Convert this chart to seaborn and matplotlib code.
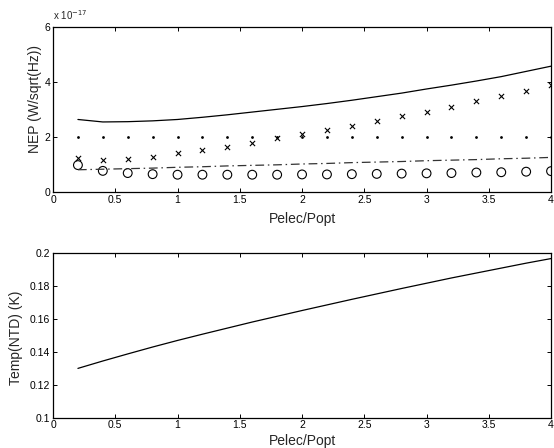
import matplotlib

matplotlib.use("Agg")
import matplotlib.pyplot as plt
import numpy as np
import pandas as pd
import seaborn as sns

# ------------------------------------------------------------------ #
# Data
# ------------------------------------------------------------------ #
ratio = [0.2, 0.4, 0.6, 0.8, 1.0, 1.2, 1.4, 1.6, 1.8, 2.0,
         2.2, 2.4, 2.6, 2.8, 3.0, 3.2, 3.4, 3.6, 3.8, 4.0]

# NEP values in units of 1e-17 W/sqrt(Hz)
nep_total = [2.63, 2.54, 2.55, 2.58, 2.63, 2.71, 2.80, 2.90, 3.00, 3.10,
             3.21, 3.33, 3.46, 3.59, 3.74, 3.88, 4.03, 4.19, 4.38, 4.57]
nep_const = [2.0] * 20
nep_cross = [1.22, 1.14, 1.18, 1.28, 1.40, 1.51, 1.64, 1.78, 1.95, 2.10,
             2.24, 2.40, 2.57, 2.74, 2.92, 3.09, 3.29, 3.47, 3.66, 3.87]
nep_circle = [0.97, 0.76, 0.68, 0.64, 0.62, 0.62, 0.62, 0.62, 0.62, 0.63,
              0.63, 0.64, 0.65, 0.66, 0.67, 0.68, 0.70, 0.71, 0.73, 0.75]
nep_dashdot = [0.80, 0.82, 0.84, 0.86, 0.89, 0.91, 0.94, 0.96, 0.98, 1.01,
               1.03, 1.06, 1.08, 1.10, 1.13, 1.15, 1.17, 1.20, 1.22, 1.25]

temp_ntd = [0.1300, 0.1345, 0.1388, 0.1430, 0.1470, 0.1508, 0.1545, 0.1582,
            0.1617, 0.1652, 0.1686, 0.1720, 0.1753, 0.1786, 0.1818, 0.1850,
            0.1880, 0.1910, 0.1940, 0.1968]

df = pd.DataFrame({
    "ratio": ratio, "total": nep_total, "const": nep_const,
    "cross": nep_cross, "circle": nep_circle, "dashdot": nep_dashdot,
    "temp": temp_ntd,
})

sns.set_style("ticks")
plt.rcParams["font.family"] = ["Liberation Sans", "DejaVu Sans"]
plt.rcParams["xtick.direction"] = "in"
plt.rcParams["ytick.direction"] = "in"

fig = plt.figure(figsize=(5.54, 4.48), dpi=100)
ax1 = fig.add_axes([0.0957, 0.572, 0.899, 0.368])
ax2 = fig.add_axes([0.0957, 0.0676, 0.899, 0.367])

# Upper panel: NEP contributions
sns.lineplot(data=df, x="ratio", y="total", ax=ax1, color="black", lw=0.9)
sns.lineplot(data=df, x="ratio", y="dashdot", ax=ax1, color="#333333",
             lw=0.9, linestyle=(0, (7, 3, 1.2, 3)))
sns.scatterplot(data=df, x="ratio", y="const", ax=ax1, color="black",
                marker="o", s=4, linewidth=0)
sns.scatterplot(data=df, x="ratio", y="cross", ax=ax1, color="black",
                marker="x", s=14, linewidth=0.8)
sns.scatterplot(data=df, x="ratio", y="circle", ax=ax1, facecolor="none",
                edgecolor="black", marker="o", s=40, linewidth=0.8)

ticks_x = np.arange(0, 4.01, 0.5)
labels_x = ["0", "0.5", "1", "1.5", "2", "2.5", "3", "3.5", "4"]

ax1.set_xlim(0, 4)
ax1.set_ylim(0, 6)
ax1.set_xticks(ticks_x)
ax1.set_xticklabels(labels_x)
ax1.set_yticks([0, 2, 4, 6])
ax1.set_xlabel("Pelec/Popt", fontsize=10)
ax1.set_ylabel("NEP (W/sqrt(Hz))", fontsize=10)
ax1.xaxis.set_label_coords(0.5, -0.125)
ax1.yaxis.set_label_coords(-0.022, 0.56)
ax1.text(0.0, 1.03, r"x 10$^{-17}$", transform=ax1.transAxes,
         fontsize=7, ha="left", va="bottom")

# Lower panel: NTD temperature
sns.lineplot(data=df, x="ratio", y="temp", ax=ax2, color="black", lw=0.9)
ax2.set_xlim(0, 4)
ax2.set_ylim(0.1, 0.2)
ax2.set_xticks(ticks_x)
ax2.set_xticklabels(labels_x)
ax2.set_yticks([0.1, 0.12, 0.14, 0.16, 0.18, 0.2])
ax2.set_yticklabels(["0.1", "0.12", "0.14", "0.16", "0.18", "0.2"])
ax2.set_xlabel("Pelec/Popt", fontsize=10)
ax2.set_ylabel("Temp(NTD) (K)", fontsize=10)
ax2.xaxis.set_label_coords(0.5, -0.1)
ax2.yaxis.set_label_coords(-0.060, 0.485)

for ax in (ax1, ax2):
    for side in ("top", "right", "bottom", "left"):
        ax.spines[side].set_visible(True)
        ax.spines[side].set_linewidth(0.9)
        ax.spines[side].set_color("black")
    ax.tick_params(which="both", direction="in", length=3, width=0.7,
                   labelsize=7.5, top=True, right=True, pad=2,
                   colors="black")
    ax.set_facecolor("white")

fig.savefig("out.png", dpi=100, facecolor="white")
